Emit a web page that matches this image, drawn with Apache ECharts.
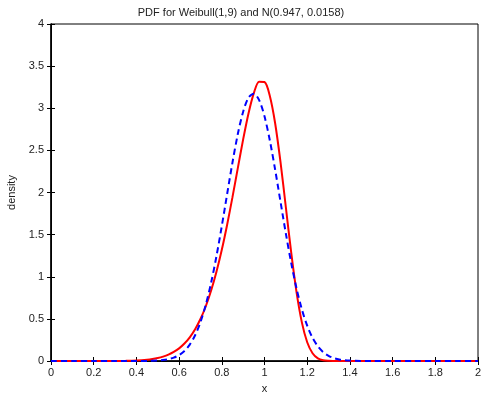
<!DOCTYPE html>
<html><head><meta charset="utf-8">
<script src="https://cdn.jsdelivr.net/npm/echarts@6/dist/echarts.min.js"></script>
<style>html,body{margin:0;padding:0;background:#fff}#c{width:482px;height:398px}</style>
</head><body><div id="c"></div>
<script>
var xValues = [0, 0.1, 0.2, 0.3, 0.35, 0.4, 0.45, 0.475, 0.5, 0.525, 0.55, 0.575, 0.6, 0.625, 0.65, 0.675, 0.7, 0.725, 0.75, 0.775, 0.8, 0.825, 0.85, 0.875, 0.9, 0.925, 0.95, 0.975, 1.0, 1.025, 1.05, 1.075, 1.1, 1.125, 1.15, 1.175, 1.2, 1.225, 1.25, 1.275, 1.3, 1.325, 1.35, 1.375, 1.4, 1.45, 1.5, 1.6, 1.7, 1.8, 1.9, 2.0];
var weibullPdf = [0, 0, 0, 0.0006, 0.002, 0.006, 0.015, 0.023, 0.035, 0.052, 0.075, 0.107, 0.150, 0.207, 0.281, 0.377, 0.498, 0.650, 0.836, 1.059, 1.320, 1.618, 1.945, 2.290, 2.630, 2.938, 3.179, 3.315, 3.311, 3.145, 2.819, 2.360, 1.825, 1.288, 0.817, 0.458, 0.222, 0.092, 0.031, 0.0085, 0.0018, 0.0003, 0, 0, 0, 0, 0, 0, 0, 0, 0, 0];
var normalPdf = [0, 0, 0, 0, 0, 0.0002, 0.0013, 0.0028, 0.0057, 0.0113, 0.0217, 0.0398, 0.0703, 0.1193, 0.1947, 0.3053, 0.4603, 0.6673, 0.9294, 1.2445, 1.6017, 1.9816, 2.3565, 2.6936, 2.9595, 3.1256, 3.1729, 3.0960, 2.9038, 2.6180, 2.2688, 1.8898, 1.5130, 1.1645, 0.8615, 0.6126, 0.4187, 0.2750, 0.1737, 0.1054, 0.0615, 0.0345, 0.0186, 0.0096, 0.0048, 0.0011, 0.0002, 0, 0, 0, 0, 0];
var xTicks = [0, 0.2, 0.4, 0.6, 0.8, 1, 1.2, 1.4, 1.6, 1.8, 2];
var yTicks = [0, 0.5, 1, 1.5, 2, 2.5, 3, 3.5, 4];

function pairs(ys){ return xValues.map(function(x,i){ return [x, ys[i]]; }); }
var font = 'Liberation Sans, Arial, sans-serif';
var chart = echarts.init(document.getElementById('c'), null, {renderer:'canvas'});
var tickStyle = {show:true, inside:true, length:4, lineStyle:{color:'#000', width:1}};
chart.setOption({
  animation:false,
  backgroundColor:'#fff',
  title:{text:'PDF for Weibull(1,9) and N(0.947, 0.0158)', left:'center', top:2,
    textStyle:{fontFamily:font, fontSize:11, fontWeight:'normal', color:'#222'}},
  grid:{left:51, right:4, top:24, bottom:37, outerBoundsMode:'none', containLabel:false,
    show:true, borderColor:'#000', borderWidth:1, backgroundColor:'#fff'},
  xAxis:[{type:'value', min:0, max:2, interval:0.2, position:'bottom',
    name:'x', nameLocation:'middle', nameGap:22, nameTextStyle:{fontFamily:font, fontSize:11, color:'#222'},
    axisLine:{show:true, lineStyle:{color:'#000', width:1.5}}, axisTick:tickStyle,
    axisLabel:{fontFamily:font, fontSize:11, color:'#222', margin:6, formatter:function(v){return String(+v.toFixed(1));}},
    splitLine:{show:false}},
   {type:'value', min:0, max:2, interval:0.2, position:'top',
    axisLine:{show:true, lineStyle:{color:'#000', width:1}}, axisTick:tickStyle, axisLabel:{show:false}, splitLine:{show:false}}],
  yAxis:[{type:'value', min:0, max:4, interval:0.5, position:'left',
    name:'density', nameLocation:'middle', nameGap:27, nameTextStyle:{fontFamily:font, fontSize:11, color:'#222'},
    axisLine:{show:true, lineStyle:{color:'#000', width:1.5}}, axisTick:tickStyle,
    axisLabel:{fontFamily:font, fontSize:11, color:'#222', margin:7, formatter:function(v){return String(+v.toFixed(1));}},
    splitLine:{show:false}},
   {type:'value', min:0, max:4, interval:0.5, position:'right',
    axisLine:{show:true, lineStyle:{color:'#000', width:1}}, axisTick:tickStyle, axisLabel:{show:false}, splitLine:{show:false}}],
  series:[
    {type:'line', name:'Weibull', data:pairs(weibullPdf), showSymbol:false, smooth:0.3,
     lineStyle:{color:'#ff0000', width:2}, z:2},
    {type:'line', name:'Normal', data:pairs(normalPdf), showSymbol:false, smooth:0.3,
     lineStyle:{color:'#0000ff', width:2, type:[6,4]}, z:3}
  ]
});
</script></body></html>
